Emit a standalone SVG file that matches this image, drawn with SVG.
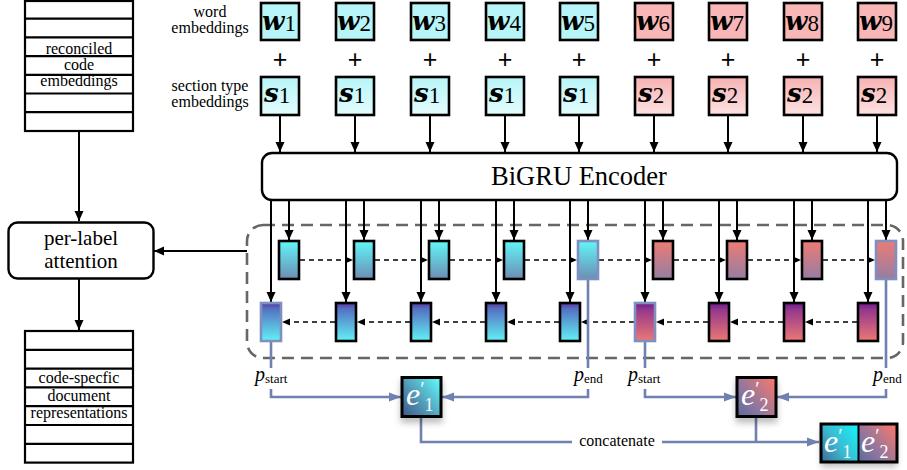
<svg xmlns="http://www.w3.org/2000/svg" width="907" height="470" viewBox="0 0 907 470">
<style>
  text { font-family: "Liberation Serif", "Times New Roman", serif; fill: #000; }
  .lbl { font-size: 16px; text-anchor: middle; }
  .big { font-size: 21px; text-anchor: middle; }
  .enc { font-size: 26.5px; text-anchor: middle; }
  .plus { font-family: "Liberation Sans", Arial, sans-serif; font-size: 25px; text-anchor: middle; }
  .mb { font-family: "DejaVu Serif", serif; font-weight: bold; font-style: italic; font-size: 26px; }
  .dig { font-size: 23px; }
  .pi { font-style: italic; font-size: 20px; }
  .psub { font-size: 13px; }
  .ew { font-style: italic; font-size: 32px; fill: #fff; }
  .ep { font-style: normal; font-size: 20px; }
  .es { font-style: normal; font-size: 18px; }
  .stack { fill: #fff; stroke: #000; stroke-width: 2.2; }
  .row { stroke: #000; stroke-width: 2.2; }
  .emb { stroke: #000; stroke-width: 2.6; }
  .hb { stroke: #000; stroke-width: 2.6; }
  .hs { stroke: #7f8fbf; stroke-width: 2.6; }
  .ar { stroke: #000; stroke-width: 2; fill: none; marker-end: url(#ah); }
  .da { stroke: #000; stroke-width: 1.5; stroke-dasharray: 5 4; fill: none; marker-end: url(#ahs); }
  .bl { stroke: #7080b0; stroke-width: 2.6; fill: none; }
  .bla { stroke: #7080b0; stroke-width: 2.6; fill: none; marker-end: url(#ahb); }
</style>
<defs>
  <marker id="ah" markerUnits="userSpaceOnUse" markerWidth="10" markerHeight="10" refX="10" refY="5" orient="auto">
    <path d="M0,0.5 L10,5 L0,9.5 z" fill="#000"/>
  </marker>
  <marker id="ahs" markerUnits="userSpaceOnUse" markerWidth="8" markerHeight="8" refX="8" refY="4" orient="auto">
    <path d="M0,0.5 L8,4 L0,7.5 z" fill="#000"/>
  </marker>
  <marker id="ahb" markerUnits="userSpaceOnUse" markerWidth="12" markerHeight="10" refX="12" refY="5" orient="auto">
    <path d="M0,0.5 L12,5 L0,9.5 z" fill="#7080b0"/>
  </marker>
  <linearGradient id="sc" x1="0" y1="0" x2="0" y2="1">
    <stop offset="0" stop-color="#b8f5f8"/><stop offset="1" stop-color="#e4fcfd"/>
  </linearGradient>
  <linearGradient id="sr" x1="0" y1="0" x2="0" y2="1">
    <stop offset="0" stop-color="#f7b2b2"/><stop offset="1" stop-color="#fde2e2"/>
  </linearGradient>
  <linearGradient id="fc" x1="0" y1="0" x2="0" y2="1">
    <stop offset="0" stop-color="#62f6f8"/><stop offset="1" stop-color="#6c8db4"/>
  </linearGradient>
  <linearGradient id="fr" x1="0" y1="0" x2="0" y2="1">
    <stop offset="0" stop-color="#ec7b74"/><stop offset="1" stop-color="#957ea2"/>
  </linearGradient>
  <linearGradient id="bc" x1="0" y1="0" x2="0" y2="1">
    <stop offset="0" stop-color="#5a379c"/><stop offset="0.15" stop-color="#5470c2"/><stop offset="1" stop-color="#62f2f6"/>
  </linearGradient>
  <linearGradient id="br" x1="0" y1="0" x2="0" y2="1">
    <stop offset="0" stop-color="#6a1c8c"/><stop offset="0.18" stop-color="#96388c"/><stop offset="1" stop-color="#ec7874"/>
  </linearGradient>
  <linearGradient id="e1g" x1="0" y1="1" x2="1" y2="0.2">
    <stop offset="0" stop-color="#3c5a8a"/><stop offset="0.35" stop-color="#4e86aa"/><stop offset="1" stop-color="#5ff0f4"/>
  </linearGradient>
  <linearGradient id="e2g" x1="0" y1="1" x2="1" y2="0.2">
    <stop offset="0" stop-color="#5d6a9c"/><stop offset="0.4" stop-color="#8c76a0"/><stop offset="1" stop-color="#f07870"/>
  </linearGradient>
  <linearGradient id="c1g" x1="0" y1="1" x2="1" y2="0.3">
    <stop offset="0" stop-color="#3e6a94"/><stop offset="0.5" stop-color="#3cb8d0"/><stop offset="1" stop-color="#1ce9f2"/>
  </linearGradient>
  <filter id="sh" x="-30%" y="-30%" width="160%" height="170%">
    <feDropShadow dx="0" dy="5" stdDeviation="3" flood-color="#000" flood-opacity="0.25"/>
  </filter>
</defs>

<!-- left column -->
<g id="code-embeddings">
  <rect class="stack" x="25" y="1" width="108" height="130"/>
  <path class="row" d="M25,18.7H133M25,37.4H133M25,56.1H133M25,74.8H133M25,93.5H133M25,112.2H133"/>
  <text class="lbl" x="79" y="54">reconciled</text>
  <text class="lbl" x="79" y="70">code</text>
  <text class="lbl" x="79" y="86">embeddings</text>
</g>
<g id="per-label-attention">
  <rect x="8.5" y="222.5" width="145" height="56" rx="9" fill="#fff" stroke="#000" stroke-width="2.4"/>
  <text class="big" x="81" y="245">per-label</text>
  <text class="big" x="81" y="268">attention</text>
</g>
<g id="doc-representations">
  <rect class="stack" x="25" y="331" width="108" height="131.6"/>
  <path class="row" d="M25,349.8H133M25,368.6H133M25,387.4H133M25,406.2H133M25,425H133M25,443.8H133"/>
  <text class="lbl" x="79" y="383">code-specfic</text>
  <text class="lbl" x="79" y="401">document</text>
  <text class="lbl" x="79" y="418">representations</text>
</g>

<g id="row-labels">
  <text class="lbl" x="210" y="17">word</text>
  <text class="lbl" x="210" y="33">embeddings</text>
  <text class="lbl" x="210" y="91">section type</text>
  <text class="lbl" x="210" y="107">embeddings</text>
</g>

<!-- word embeddings -->
<g id="word-embeddings">
  <g id="w1"><rect class="emb" x="261" y="3" width="38" height="37" fill="#b8f5f8"/><text x="262" y="30"><tspan class="mb">w</tspan><tspan class="dig" dy="1">1</tspan></text></g>
  <g id="w2"><rect class="emb" x="336" y="3" width="38" height="37" fill="#b8f5f8"/><text x="337" y="30"><tspan class="mb">w</tspan><tspan class="dig" dy="1">2</tspan></text></g>
  <g id="w3"><rect class="emb" x="411" y="3" width="38" height="37" fill="#b8f5f8"/><text x="412" y="30"><tspan class="mb">w</tspan><tspan class="dig" dy="1">3</tspan></text></g>
  <g id="w4"><rect class="emb" x="486" y="3" width="38" height="37" fill="#b8f5f8"/><text x="487" y="30"><tspan class="mb">w</tspan><tspan class="dig" dy="1">4</tspan></text></g>
  <g id="w5"><rect class="emb" x="560" y="3" width="38" height="37" fill="#b8f5f8"/><text x="561" y="30"><tspan class="mb">w</tspan><tspan class="dig" dy="1">5</tspan></text></g>
  <g id="w6"><rect class="emb" x="635" y="3" width="38" height="37" fill="#f9b6b6"/><text x="636" y="30"><tspan class="mb">w</tspan><tspan class="dig" dy="1">6</tspan></text></g>
  <g id="w7"><rect class="emb" x="709" y="3" width="38" height="37" fill="#f9b6b6"/><text x="710" y="30"><tspan class="mb">w</tspan><tspan class="dig" dy="1">7</tspan></text></g>
  <g id="w8"><rect class="emb" x="784" y="3" width="38" height="37" fill="#f9b6b6"/><text x="785" y="30"><tspan class="mb">w</tspan><tspan class="dig" dy="1">8</tspan></text></g>
  <g id="w9"><rect class="emb" x="858" y="3" width="38" height="37" fill="#f9b6b6"/><text x="859" y="30"><tspan class="mb">w</tspan><tspan class="dig" dy="1">9</tspan></text></g>
</g>

<g id="plus-signs">
  <text class="plus" x="280" y="68">+</text>
  <text class="plus" x="355" y="68">+</text>
  <text class="plus" x="430" y="68">+</text>
  <text class="plus" x="505" y="68">+</text>
  <text class="plus" x="579" y="68">+</text>
  <text class="plus" x="654" y="68">+</text>
  <text class="plus" x="728" y="68">+</text>
  <text class="plus" x="803" y="68">+</text>
  <text class="plus" x="877" y="68">+</text>
</g>

<g id="section-embeddings">
  <g id="s1a"><rect class="emb" x="261" y="77" width="38" height="38" fill="url(#sc)"/><text x="264" y="102"><tspan class="mb">s</tspan><tspan class="dig" dy="1">1</tspan></text></g>
  <g id="s1b"><rect class="emb" x="336" y="77" width="38" height="38" fill="url(#sc)"/><text x="339" y="102"><tspan class="mb">s</tspan><tspan class="dig" dy="1">1</tspan></text></g>
  <g id="s1c"><rect class="emb" x="411" y="77" width="38" height="38" fill="url(#sc)"/><text x="414" y="102"><tspan class="mb">s</tspan><tspan class="dig" dy="1">1</tspan></text></g>
  <g id="s1d"><rect class="emb" x="486" y="77" width="38" height="38" fill="url(#sc)"/><text x="489" y="102"><tspan class="mb">s</tspan><tspan class="dig" dy="1">1</tspan></text></g>
  <g id="s1e"><rect class="emb" x="560" y="77" width="38" height="38" fill="url(#sc)"/><text x="563" y="102"><tspan class="mb">s</tspan><tspan class="dig" dy="1">1</tspan></text></g>
  <g id="s2a"><rect class="emb" x="635" y="77" width="38" height="38" fill="url(#sr)"/><text x="638" y="102"><tspan class="mb">s</tspan><tspan class="dig" dy="1">2</tspan></text></g>
  <g id="s2b"><rect class="emb" x="709" y="77" width="38" height="38" fill="url(#sr)"/><text x="712" y="102"><tspan class="mb">s</tspan><tspan class="dig" dy="1">2</tspan></text></g>
  <g id="s2c"><rect class="emb" x="784" y="77" width="38" height="38" fill="url(#sr)"/><text x="787" y="102"><tspan class="mb">s</tspan><tspan class="dig" dy="1">2</tspan></text></g>
  <g id="s2d"><rect class="emb" x="858" y="77" width="38" height="38" fill="url(#sr)"/><text x="861" y="102"><tspan class="mb">s</tspan><tspan class="dig" dy="1">2</tspan></text></g>
</g>

<g id="bigru-encoder">
  <rect x="262" y="153" width="635" height="47" rx="10" fill="#fff" stroke="#000" stroke-width="2.4"/>
  <text class="enc" x="579" y="185">BiGRU Encoder</text>
</g>

<g id="hidden-region">
  <rect x="247" y="225" width="656" height="133" rx="16" fill="none" stroke="#666" stroke-width="2.6" stroke-dasharray="12 7"/>
</g>

<g id="connectors">
  <!-- s to encoder -->
  <path class="ar" d="M280,115V152"/><path class="ar" d="M355,115V152"/><path class="ar" d="M430,115V152"/>
  <path class="ar" d="M505,115V152"/><path class="ar" d="M579,115V152"/><path class="ar" d="M654,115V152"/>
  <path class="ar" d="M728,115V152"/><path class="ar" d="M803,115V152"/><path class="ar" d="M877,115V152"/>
  <!-- encoder to backward -->
  <path class="ar" d="M271,200V302"/><path class="ar" d="M346,200V302"/><path class="ar" d="M421,200V302"/>
  <path class="ar" d="M496,200V302"/><path class="ar" d="M570,200V302"/><path class="ar" d="M645,200V302"/>
  <path class="ar" d="M719,200V302"/><path class="ar" d="M794,200V302"/><path class="ar" d="M868,200V302"/>
  <!-- encoder to forward -->
  <path class="ar" d="M289,200V240"/><path class="ar" d="M364,200V240"/><path class="ar" d="M439,200V240"/>
  <path class="ar" d="M514,200V240"/><path class="ar" d="M588,200V240"/><path class="ar" d="M663,200V240"/>
  <path class="ar" d="M737,200V240"/><path class="ar" d="M812,200V240"/><path class="ar" d="M886,200V240"/>
  <!-- forward recurrence -->
  <path class="da" d="M300,260H353"/><path class="da" d="M375,260H428"/><path class="da" d="M450,260H503"/>
  <path class="da" d="M525,260H577"/><path class="da" d="M599,260H652"/><path class="da" d="M674,260H726"/>
  <path class="da" d="M748,260H801"/><path class="da" d="M823,260H875"/>
  <!-- backward recurrence -->
  <path class="da" d="M335,322H282"/><path class="da" d="M410,322H357"/><path class="da" d="M485,322H432"/>
  <path class="da" d="M559,322H507"/><path class="da" d="M634,322H581"/><path class="da" d="M708,322H656"/>
  <path class="da" d="M783,322H730"/><path class="da" d="M857,322H805"/>
  <!-- to attention -->
  <path class="ar" d="M247,251H154"/>
  <path class="ar" d="M79,131V221"/>
  <path class="ar" d="M79,279V330"/>
  <!-- span pooling -->
  <path class="bl" d="M271,342V368M588,280V368M645,342V368M886,280V368"/>
  <path class="bla" d="M271,389V397H401"/>
  <path class="bla" d="M588,389V397H442"/>
  <path class="bla" d="M645,389V397H736"/>
  <path class="bla" d="M886,389V397H777"/>
  <path class="bl" d="M421,416V442H572"/>
  <path class="bl" d="M756,416V442"/>
  <path class="bla" d="M662,442H819"/>
</g>

<g id="forward-states">
  <rect class="hb" x="279" y="241" width="20" height="38" fill="url(#fc)"/>
  <rect class="hb" x="354" y="241" width="20" height="38" fill="url(#fc)"/>
  <rect class="hb" x="429" y="241" width="20" height="38" fill="url(#fc)"/>
  <rect class="hb" x="504" y="241" width="20" height="38" fill="url(#fc)"/>
  <rect class="hs" x="578" y="241" width="20" height="38" fill="url(#fc)"/>
  <rect class="hb" x="653" y="241" width="20" height="38" fill="url(#fr)"/>
  <rect class="hb" x="727" y="241" width="20" height="38" fill="url(#fr)"/>
  <rect class="hb" x="802" y="241" width="20" height="38" fill="url(#fr)"/>
  <rect class="hs" x="876" y="241" width="20" height="38" fill="url(#fr)"/>
</g>
<g id="backward-states">
  <rect class="hs" x="261" y="303" width="20" height="38" fill="url(#bc)"/>
  <rect class="hb" x="336" y="303" width="20" height="38" fill="url(#bc)"/>
  <rect class="hb" x="411" y="303" width="20" height="38" fill="url(#bc)"/>
  <rect class="hb" x="486" y="303" width="20" height="38" fill="url(#bc)"/>
  <rect class="hb" x="560" y="303" width="20" height="38" fill="url(#bc)"/>
  <rect class="hs" x="635" y="303" width="20" height="38" fill="url(#br)"/>
  <rect class="hb" x="709" y="303" width="20" height="38" fill="url(#br)"/>
  <rect class="hb" x="784" y="303" width="20" height="38" fill="url(#br)"/>
  <rect class="hb" x="858" y="303" width="20" height="38" fill="url(#br)"/>
</g>

<g id="span-labels">
  <text x="255" y="381"><tspan class="pi">p</tspan><tspan class="psub" dy="2">start</tspan></text>
  <text x="574" y="381"><tspan class="pi">p</tspan><tspan class="psub" dy="2">end</tspan></text>
  <text x="628" y="381"><tspan class="pi">p</tspan><tspan class="psub" dy="2">start</tspan></text>
  <text x="873" y="381"><tspan class="pi">p</tspan><tspan class="psub" dy="2">end</tspan></text>
  <text class="lbl" x="617" y="446">concatenate</text>
</g>

<g id="e1">
  <rect x="402" y="377.5" width="39" height="39" fill="url(#e1g)" stroke="#000" stroke-width="3" filter="url(#sh)"/>
  <text class="ew" x="406" y="405">e<tspan class="ep" dy="-9">′</tspan><tspan class="es" dy="15">1</tspan></text>
</g>
<g id="e2">
  <rect x="737" y="377.5" width="39" height="39" fill="url(#e2g)" stroke="#000" stroke-width="3" filter="url(#sh)"/>
  <text class="ew" x="741" y="405">e<tspan class="ep" dy="-9">′</tspan><tspan class="es" dy="15">2</tspan></text>
</g>
<g id="concat">
  <rect x="821" y="424" width="76" height="38" fill="#000" filter="url(#sh)"/>
  <rect x="821" y="424" width="37.5" height="38" fill="url(#c1g)"/>
  <rect x="858.5" y="424" width="38.5" height="38" fill="url(#e2g)"/>
  <rect x="821" y="424" width="76" height="38" fill="none" stroke="#000" stroke-width="3"/>
  <line x1="858.5" y1="424" x2="858.5" y2="462" stroke="#000" stroke-width="2"/>
  <text class="ew" x="824" y="452">e<tspan class="ep" dy="-9">′</tspan><tspan class="es" dy="15">1</tspan></text>
  <text class="ew" x="861" y="452">e<tspan class="ep" dy="-9">′</tspan><tspan class="es" dy="15">2</tspan></text>
</g>
</svg>
